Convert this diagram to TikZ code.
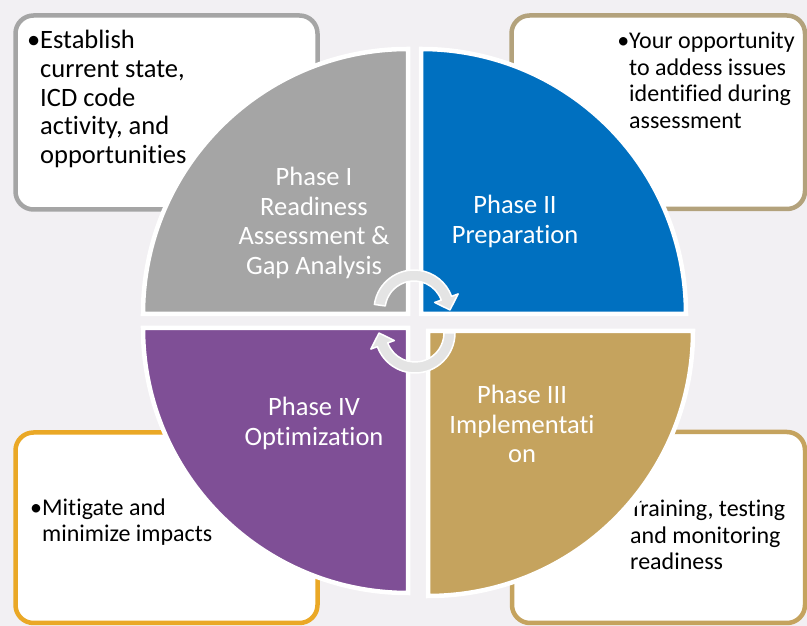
\documentclass[tikz,border=0pt]{standalone}
\usepackage{fontspec}
\setmainfont{Carlito}[Ligatures=NoCommon]
\usetikzlibrary{positioning}

\definecolor{bgcol}{HTML}{F2F0F3}
\definecolor{phaseone}{HTML}{A5A5A5}
\definecolor{phasetwo}{HTML}{0070C0}
\definecolor{phasethree}{HTML}{C5A35E}
\definecolor{phasefour}{HTML}{7F4F96}
\definecolor{edgetwo}{HTML}{B3A27C}
\definecolor{edgefour}{HTML}{EAA826}
\definecolor{arrowgrey}{HTML}{E4E4E4}

\tikzset{
  phase/.style={draw=white, line width=4.5pt},
  phasetext/.style={text=white, align=center, anchor=north, inner sep=0pt,
    font=\fontsize{26.5}{29.5}\selectfont},
  notebox/.style={draw, fill=white, rounded corners=18pt, line width=4.5pt, outer sep=0pt},
  notetext/.style={align=left, inner sep=0pt, font=\fontsize{24}{26.5}\selectfont},
  cyclearrow/.style={fill=arrowgrey, draw=white, line width=1.5pt, line join=round},
}

\begin{document}
\begin{tikzpicture}[x=1pt, y=1pt]
  \fill[bgcol] (0,0) rectangle (807,626);
  \useasboundingbox (0,0) rectangle (807,626);

  % note boxes, behind the circle
  \node[notebox, draw=phaseone, minimum width=302pt, minimum height=194pt] (tlbox) at (166.5,513.5) {};
  \node[notebox, draw=edgetwo, minimum width=293.5pt, minimum height=193.5pt] (trbox) at (658.25,513.75) {};
  \node[notebox, draw=edgefour, minimum width=302pt, minimum height=190.5pt] (blbox) at (166.5,98.25) {};
  \node[notebox, draw=phasethree, minimum width=293pt, minimum height=191pt] (brbox) at (658.5,98.5) {};

  \node[notetext, font=\fontsize{26.5}{28.75}\selectfont, below right=14.5pt and 24.5pt of tlbox.north west] (tlnote)
    {\llap{•}Establish\\current state,\\ICD code\\activity, and\\opportunities};
  \node[notetext, below right=16.5pt and 117.5pt of trbox.north west] (trnote)
    {\llap{•}Your opportunity\\to addess issues\\identified during\\assessment};
  \node[notetext, below right=66pt and 26.5pt of blbox.north west] (blnote)
    {\llap{•}Mitigate and\\minimize impacts};
  \node[notetext, below right=68pt and 118pt of brbox.north west] (brnote)
    {\llap{•}Training, testing\\and monitoring\\readiness};

  % the four quarters
  \filldraw[phase, fill=phaseone] (408,312) -- ++(-265,0) arc[start angle=180, end angle=90, radius=265] -- cycle;
  \filldraw[phase, fill=phasetwo] (421,312) -- ++(0,265) arc[start angle=90, end angle=0, radius=265] -- cycle;
  \filldraw[phase, fill=phasefour] (408,298) -- ++(0,-265) arc[start angle=270, end angle=180, radius=265] -- cycle;
  % wider white rim where the quarter runs over the note
  \draw[white, line width=14pt] (428,295) ++(-28:265) arc[start angle=-28, end angle=-44, radius=265];
  \filldraw[phase, fill=phasethree] (428,295) -- ++(265,0) arc[start angle=0, end angle=-90, radius=265] -- cycle;

  \node[phasetext] (one) at (314,459) {Phase I\\Readiness\\Assessment \&\\Gap Analysis};
  \node[phasetext] (two) at (515,431) {Phase II\\Preparation};
  \node[phasetext] (three) at (522,241) {Phase III\\Implementati\\on};
  \node[phasetext] (four) at (314,229) {Phase IV\\Optimization};

  % cycle arrows in the middle
  \begin{scope}[shift={(414,316)}]
    \filldraw[cyclearrow] (172:40) arc[start angle=172, end angle=20, radius=40]
      -- (20:47) -- (0:36) -- (20:22) -- (20:29)
      arc[start angle=20, end angle=172, radius=29] -- cycle;
  \end{scope}
  \begin{scope}[shift={(415,293)}]
    \filldraw[cyclearrow] (0:40) arc[start angle=0, end angle=-160, radius=40]
      -- (-160:47) -- (-180:36) -- (-160:22) -- (-160:29)
      arc[start angle=-160, end angle=0, radius=29] -- cycle;
  \end{scope}
\end{tikzpicture}
\end{document}
